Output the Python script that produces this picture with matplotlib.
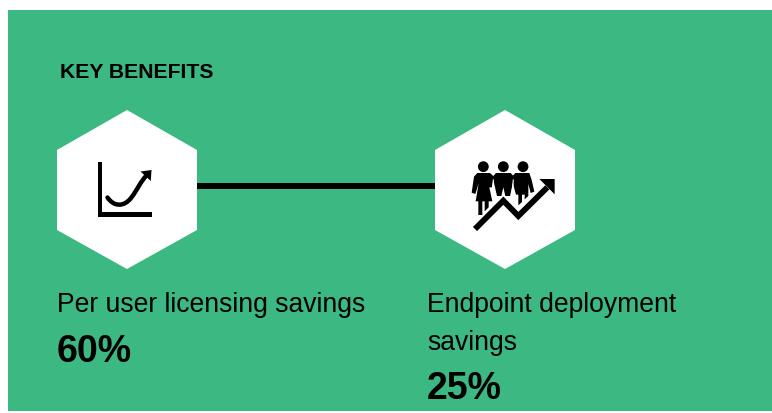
import matplotlib
matplotlib.use('Agg')
import matplotlib.pyplot as plt
from matplotlib.patches import Polygon, Rectangle, Circle, PathPatch
from matplotlib.path import Path

title = 'KEY BENEFITS'
benefits = ['Per user licensing savings', 'Endpoint deployment', 'savings']
savings = ['60%', '25%']

green = '#3CB883'
plt.rcParams['font.family'] = ['Liberation Sans', 'DejaVu Sans']

# work in pixels of the picture, y going down
fig = plt.figure(figsize=(7.72, 4.13), dpi=100, facecolor='white')
ax = fig.add_axes([0, 0, 1, 1])
ax.set_xlim(0, 772)
ax.set_ylim(413, 0)
ax.axis('off')

ax.add_patch(Rectangle((8, 10), 764, 401, color=green, lw=0))


def hexagon(cx):
    pts = [(cx, 110), (cx + 70, 150), (cx + 70, 230), (cx, 269), (cx - 70, 230), (cx - 70, 150)]
    ax.add_patch(Polygon(pts, closed=True, color='white', lw=0, zorder=2))


hexagon(127)
hexagon(505)

# connector
ax.add_patch(Rectangle((197, 183.3), 238, 5.4, color='black', lw=0, zorder=2))

# icon 1: axes
ax.add_patch(Rectangle((97.7, 162), 4.5, 54.7, color='black', lw=0, zorder=3))
ax.add_patch(Rectangle((97.7, 212.2), 54.3, 4.5, color='black', lw=0, zorder=3))
# icon 1: curve with arrow
curve = Path([(107.5, 197.5), (114, 207), (124, 207), (131, 198), (138, 189), (140, 182), (147, 175)],
             [Path.MOVETO, Path.CURVE4, Path.CURVE4, Path.CURVE4, Path.CURVE4, Path.CURVE4, Path.CURVE4])
ax.add_patch(PathPatch(curve, fc='none', ec='black', lw=3.2, capstyle='round', zorder=3))
ax.add_patch(Polygon([(151.5, 170), (140.5, 171.5), (150.8, 181)], closed=True, color='black', lw=0, zorder=3))


def z(pts):
    return [(430 + x / 3, 100 + y / 3) for x, y in pts]


for hx in (160, 220, 279):
    c = z([(hx, 200)])[0]
    ax.add_patch(Circle(c, 5.4, color='black', lw=0, zorder=3))

woman = [(142, 219), (180, 219), (192, 230), (186, 262), (178, 262), (187, 304), (176, 304), (176, 322),
         (164, 334), (164, 304), (157, 304), (157, 345), (145, 345), (145, 304), (137, 304), (146, 250),
         (136, 282), (125, 278), (132, 230)]
man1 = [(198, 219), (242, 219), (252, 230), (246, 262), (240, 288), (226, 288), (220, 262), (214, 288),
        (201, 288), (195, 262), (188, 230)]
man2 = [(256, 219), (298, 219), (305, 240), (313, 275), (302, 279), (295, 252), (295, 288), (284, 298),
        (284, 284), (276, 284), (276, 306), (265, 316), (265, 284), (258, 284), (252, 262), (246, 230)]
for body in (woman, man1, man2):
    ax.add_patch(Polygon(z(body), closed=True, fc='black', lw=0, zorder=3))
# thin gaps between the arms
for gx in (190, 250):
    ax.plot(*zip(*z([(gx, 240), (gx - 5, 285)])), color='white', lw=0.8, zorder=3.5)

# icon 2: white gap then rising arrow
zig = z([(135, 387), (220, 302), (265, 348), (352, 262)])
ax.plot(*zip(*zig), color='white', lw=6, solid_joinstyle='miter', solid_capstyle='butt', zorder=4)
ax.plot(*zip(*zig), color='black', lw=4.2, solid_joinstyle='miter', solid_capstyle='butt', zorder=5)
ax.add_patch(Polygon(z([(374, 237), (328, 237), (374, 283)]), closed=True, color='black', lw=0, zorder=5))

# text
ax.text(59.5, 73, title, fontsize=15.2, fontweight='bold', va='center', ha='left', color='black')
ax.text(57, 305.5, benefits[0], fontsize=19.1, va='center', ha='left', color='black')
ax.text(57, 352, savings[0], fontsize=27, fontweight='bold', va='center', ha='left', color='black')
ax.text(427, 305.5, benefits[1], fontsize=19.1, va='center', ha='left', color='black')
ax.text(427, 343, benefits[2], fontsize=19.1, va='center', ha='left', color='black')
ax.text(427, 389, savings[1], fontsize=27, fontweight='bold', va='center', ha='left', color='black')

fig.savefig('out.png', dpi=100)
